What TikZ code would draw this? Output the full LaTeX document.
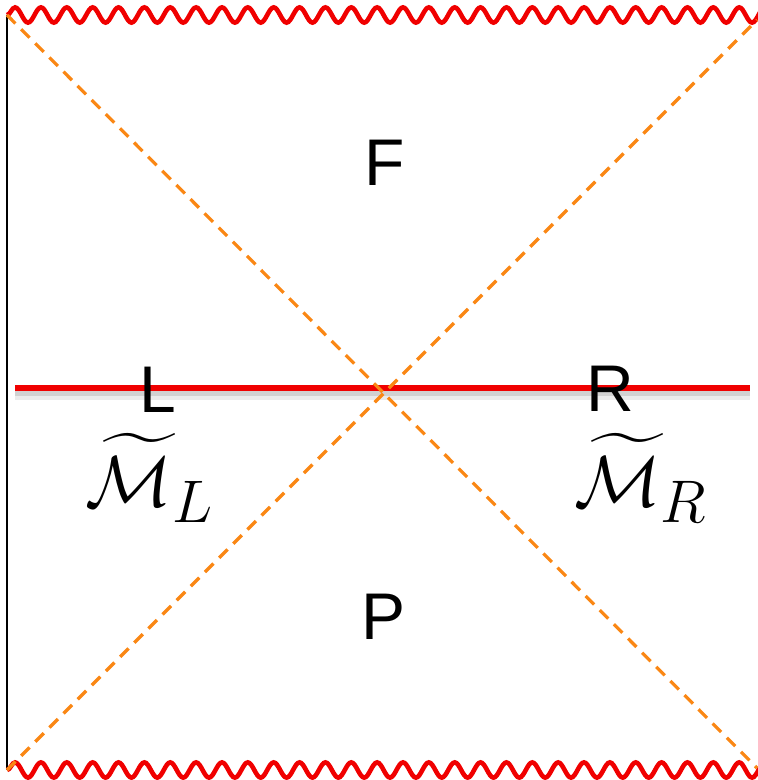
\documentclass[tikz,border=0pt]{standalone}
\usepackage[no-math]{fontspec}
\usepackage{amsmath}
\newfontfamily\regionfont{Liberation Sans}
\usetikzlibrary{decorations.pathmorphing}

\definecolor{horizonorange}{RGB}{250,135,20}
\definecolor{singred}{RGB}{240,0,0}

\tikzset{
  singularity/.style={singred,line width=2.3pt,decorate,
    decoration={snake,segment length=12.93pt,amplitude=3.8pt}},
  horizon/.style={horizonorange,line width=1.6pt,dash pattern=on 6pt off 4pt},
  region/.style={font=\regionfont\fontsize{33}{36}\selectfont,inner sep=0pt},
  patch/.style={font=\Huge,inner sep=0pt,scale=1.45,transform shape}
}

\begin{document}
\begin{tikzpicture}[x=0.5pt,y=-0.5pt]
\useasboundingbox (0,0) rectangle (757,780);

% Corners
\coordinate (tl) at (7,15);
\coordinate (tr) at (785,15);
\coordinate (bl) at (7,770);
\coordinate (br) at (785,770);

% Boundary
\draw[line width=0.8pt] (tl) -- (bl);

% Singularities
\draw[singularity] (tl) -- (tr);
\draw[singularity] (bl) -- (br);

% Slice
\coordinate (sl) at (15,388);
\coordinate (sr) at (750,388);
\draw[black!8,line width=6pt] ([yshift=-3pt]sl) -- ([yshift=-3pt]sr);
\draw[black!18,line width=3.5pt] ([yshift=-2.2pt]sl) -- ([yshift=-2.2pt]sr);
\draw[singred,line width=2.8pt] (sl) -- (sr);

% Horizons
\draw[horizon] (tl) -- (757,768);
\draw[horizon] (bl) -- (757,20);

% Regions
\node[region] (F) at (385,163) {F};
\node[region] (P) at (384,617) {P};
\node[region] (L) at (158,390) {L};
\node[region] (R) at (610,389) {R};

\node[patch] (ML) at (150,478) {$\widetilde{\mathcal{M}}_L$};
\node[patch] (MR) at (641,478) {$\widetilde{\mathcal{M}}_R$};

\end{tikzpicture}
\end{document}
